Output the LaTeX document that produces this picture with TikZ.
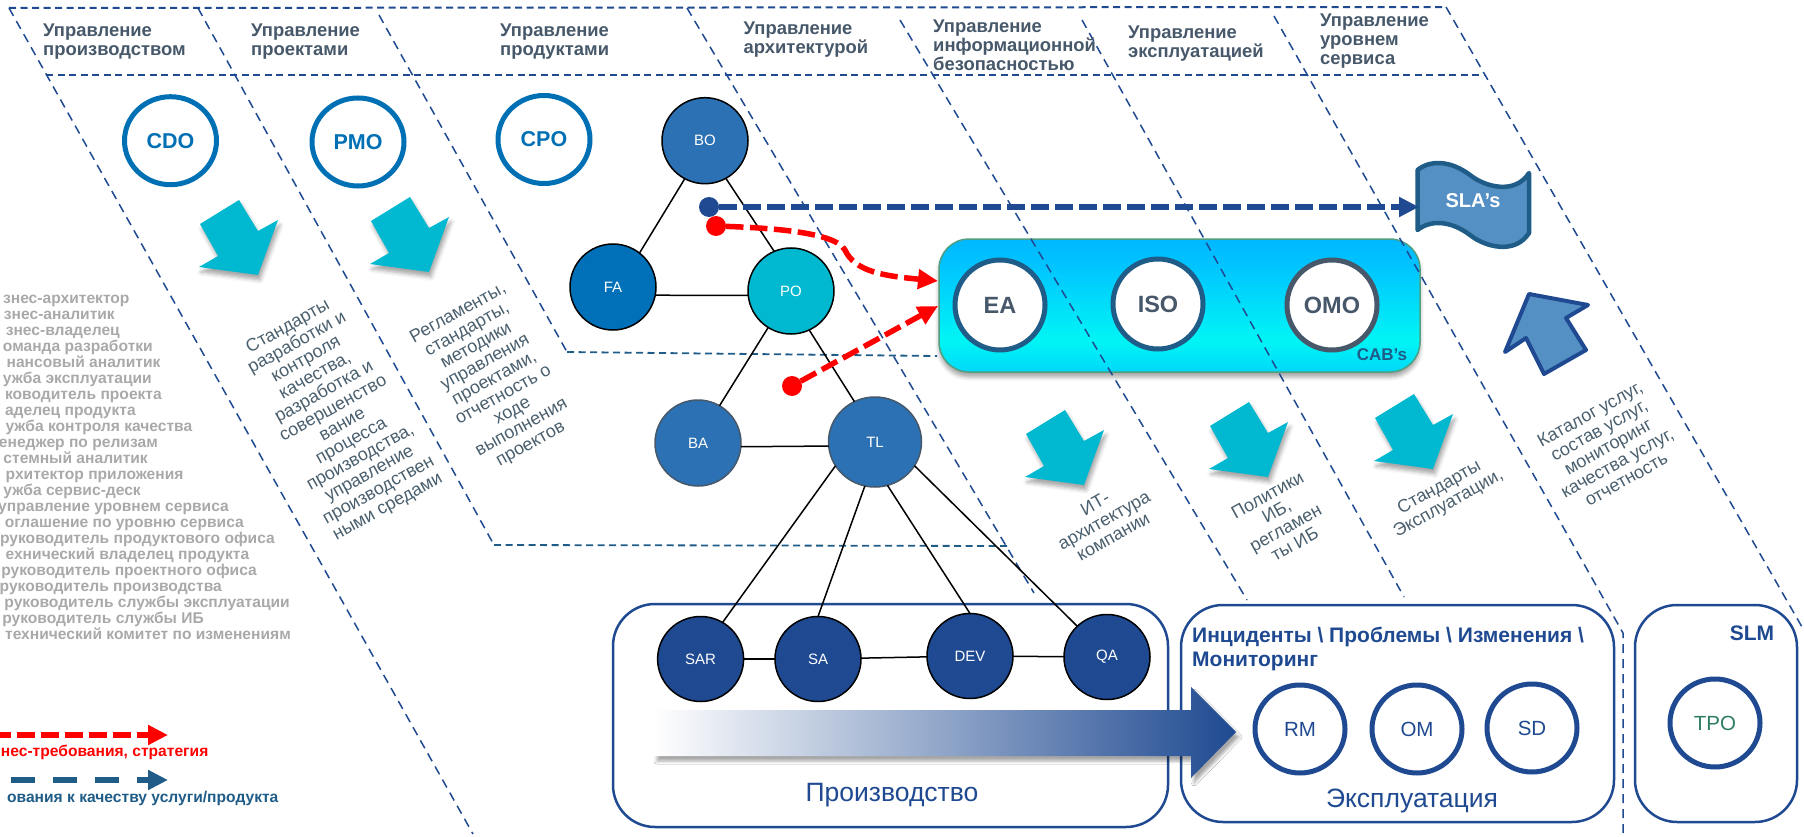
\documentclass[tikz,border=0pt]{standalone}
\usepackage{fontspec}
\setmainfont{Liberation Sans}
\usetikzlibrary{shapes.geometric,arrows.meta,shadows.blur}
\definecolor{navy}{HTML}{1F4A91}
\definecolor{steel}{HTML}{1F5C87}
\definecolor{midblue}{HTML}{2B71B3}
\definecolor{ringblue}{HTML}{0070B4}
\definecolor{faBlue}{HTML}{0070B8}
\definecolor{tealc}{HTML}{00B8D0}
\definecolor{slate}{HTML}{46586A}
\definecolor{rottext}{HTML}{4A5F6E}
\definecolor{lightgr}{HTML}{A9A9A9}
\definecolor{flagfill}{HTML}{5590C5}
\definecolor{cabedge}{HTML}{4F9F80}
\definecolor{trpgreen}{HTML}{2E7D60}
\definecolor{caba}{HTML}{00B0FF}
\definecolor{cabb}{HTML}{00F5F5}
\definecolor{cabc}{HTML}{00C4FF}
\definecolor{cabd}{HTML}{00A2FF}
\pgfdeclareverticalshading{cabfill}{100bp}{color(0bp)=(caba); color(8bp)=(caba); color(37bp)=(cabb); color(65bp)=(cabc); color(92bp)=(cabd); color(100bp)=(cabd)}
\newcommand{\fs}[1]{\fontsize{#1}{#1}\selectfont}
\tikzset{
  orb/.style n args={2}{ellipse,inner sep=0pt,outer sep=0pt,minimum width=#1pt,minimum height=#2pt},
  rolering/.style={orb={92}{88},draw=ringblue,line width=5pt,fill=white,text=ringblue,font=\bfseries\fs{21.5}},
  teamdark/.style={orb={86}{85},draw=black,line width=1.5pt,fill=navy,text=white,font=\fs{15}},
  teammid/.style={orb={86}{86},draw=black,line width=1.5pt,fill=midblue,text=white,font=\fs{15}},
  cabring/.style={orb={90}{90},draw=steel,line width=5pt,fill=white,text=slate,font=\bfseries\fs{23.5}},
  opsring/.style={orb={90}{88},draw=navy,line width=5pt,fill=white,text=navy,font=\fs{20.5}},
  laneline/.style={draw=navy,line width=1.5pt,dash pattern=on 9pt off 6pt},
  ruleline/.style={draw=navy,line width=2pt,dash pattern=on 7pt off 4.5pt},
  floorline/.style={draw=steel,line width=1.8pt,dash pattern=on 7pt off 4.5pt},
  link/.style={draw=black,line width=1.5pt},
  head/.style={anchor=west,align=left,text=slate,font=\bfseries\fontsize{18.4}{19}\selectfont,inner sep=0pt},
  rottxt/.style={rotate=29,align=center,text=rottext,font=\fontsize{18}{18.7}\selectfont,inner sep=0pt},
  listline/.style={anchor=base east,text=lightgr,font=\bfseries\fs{15.6},inner sep=0pt},
  tealarrow/.style={fill=tealc,blur shadow={shadow xshift=2pt,shadow yshift=-5pt,shadow blur radius=4pt,shadow opacity=35}},
  redflow/.style={draw=red,line width=5.5pt,dash pattern=on 17.5pt off 6.5pt,-{Triangle[length=20pt,width=19pt]}},
  blueflow/.style={draw=navy,line width=5.5pt,dash pattern=on 17.5pt off 6.5pt,-{Triangle[length=20pt,width=19pt]}},
  panel/.style={draw=navy,line width=2.5pt,rounded corners=42pt,fill=white,inner sep=0pt},
  paneltitle/.style={text=navy,font=\fs{26.5},inner sep=0pt},
  dotn/.style={circle,inner sep=0pt,outer sep=0pt,minimum size=20pt},
  legendtxt/.style={anchor=base east,font=\bfseries\fs{15.6},inner sep=0pt}
}
\begin{document}
\begin{tikzpicture}[x=1pt,y=-1pt]
\useasboundingbox (0,0) rectangle (1804,837);
\clip (0,0) rectangle (1804,837);

% coordinates of lanes
\coordinate (l1a) at (9,8);     \coordinate (l1b) at (473,834);
\coordinate (l2a) at (198,8);   \coordinate (l2b) at (494,545);
\coordinate (l3a) at (379,15);  \coordinate (l3b) at (567,352);
\coordinate (l4a) at (687,8);   \coordinate (l4b) at (1034,593);
\coordinate (l5a) at (900,20);  \coordinate (l5b) at (1247,600);
\coordinate (l6a) at (1082,20); \coordinate (l6b) at (1404,597);
\coordinate (l7a) at (1274,16); \coordinate (l7b) at (1623,633); \coordinate (l7c) at (1623,837);
\coordinate (l8a) at (1446,7);  \coordinate (l8b) at (1802,627);
\coordinate (t1) at (9,8);      \coordinate (t2) at (1446,7);
\coordinate (m1) at (46,75);    \coordinate (m2) at (1485,75);
\coordinate (f1) at (494,545);  \coordinate (f2) at (1009,546);
\coordinate (g1) at (567,352);  \coordinate (g2) at (937,356);

% CAB band
\node[rounded corners=30pt,shading=cabfill,draw=cabedge,line width=1.5pt,minimum width=481pt,minimum height=133pt,inner sep=0pt,
  blur shadow={shadow xshift=0pt,shadow yshift=-5pt,shadow blur radius=4pt,shadow opacity=35}] (cab) at (1179.5,305.5) {};

% dashed lanes
\draw[ruleline] (t1) -- (t2);
\draw[ruleline] (m1) -- (m2);
\draw[floorline] (f1) -- (f2);
\draw[floorline] (g1) -- (g2);
\draw[laneline] (l1a) -- (l1b);
\draw[laneline] (l2a) -- (l2b);
\draw[laneline] (l3a) -- (l3b);
\draw[laneline] (l4a) -- (l4b);
\draw[laneline] (l5a) -- (l5b);
\draw[laneline] (l6a) -- (l6b);
\draw[laneline] (l7a) -- (l7b) -- (l7c);
\draw[laneline] (l8a) -- (l8b);

% headers
\node[head] (h1) at (43,41.5) {Управление\\производством};
\node[head] (h2) at (251,42) {Управление\\проектами};
\node[head] (h3) at (500,42) {Управление\\продуктами};
\node[head] (h4) at (743.5,39.5) {Управление\\архитектурой};
\node[head] (h5) at (933,45.5) {Управление\\информационной\\безопасностью};
\node[head] (h6) at (1128,43.5) {Управление\\эксплуатацией};
\node[head] (h7) at (1320,41.5) {Управление\\уровнем\\сервиса};

% role rings
\node[rolering] (cdo) at (170.5,140.7) {CDO};
\node[rolering] (pmo) at (358,142) {PMO};
\node[rolering] (cpo) at (544,139.5) {CPO};

% teal arrows
\foreach \dx/\dy in {0/0,171/-3,826/210,1010/202,1175/194}
  \path[tealarrow,shift={(\dx,\dy)}] (239,200) -- (258,231) -- (278,220) -- (258,275) -- (199,267) -- (218,256) -- (200,224) -- cycle;

% bottom panels
\node[panel,minimum width=555pt,minimum height=223pt] (prod) at (890.5,715.5) {};
\node[panel,minimum width=433pt,minimum height=217pt] (expl) at (1397.5,713.5) {};
\node[panel,minimum width=162pt,minimum height=217pt] (slm) at (1716,713.5) {};

% team nodes and links
\node[teammid] (bo) at (705,140.7) {BO};
\node[orb={86}{86},draw=black,line width=1.5pt,fill=faBlue,text=white,font=\fs{15}] (fa) at (613,287) {FA};
\node[orb={86}{86},draw=black,line width=1.5pt,fill=tealc,text=white,font=\fs{15}] (po) at (791,291) {PO};
\node[teammid,draw=slate] (ba) at (698,443) {BA};
\node[orb={93}{90},draw=slate,line width=1.5pt,fill=midblue,text=white,font=\fs{15}] (tl) at (875,442) {TL};
\node[teamdark] (sar) at (700.6,659) {SAR};
\node[teamdark] (sa) at (818,659) {SA};
\node[teamdark] (dev) at (970,656) {DEV};
\node[teamdark] (qa) at (1107,657) {QA};
\draw[link] (bo.242) -- (fa.52);
\draw[link] (bo.299) -- (po.113);
\draw[link] (fa.-11) -- (po.186);
\draw[link] (po.238) -- (ba.60);
\draw[link] (po.295) -- (tl.117);
\draw[link] (ba.-5) -- (tl.185);
\draw[link] (tl.211) -- (sar.59);
\draw[link] (tl.257) -- (sa.north);
\draw[link] (tl.286) -- (dev.north);
\draw[link] (tl.329) -- (qa.134);
\draw[link] (sar) -- (sa);
\draw[link] (sa) -- (dev);
\draw[link] (dev) -- (qa);

% big gradient arrow
\shade[left color=white,right color=navy,blur shadow={shadow xshift=3pt,shadow yshift=-5pt,shadow blur radius=3pt,shadow opacity=35}]
  (654,710) -- (1191,710) -- (1191,687) -- (1236,732) -- (1191,778) -- (1191,756) -- (654,756) -- cycle;

% CAB rings
\node[cabring] (ea) at (1000,305) {EA};
\node[cabring] (iso) at (1158,304) {ISO};
\node[cabring,draw=slate] (omo) at (1332,305) {OMO};
\node[text=steel,font=\bfseries\fs{17},inner sep=0pt] (cabs) at (1382,355) {CAB’s};

% flag
\path[draw=steel,line width=4.5pt,fill=flagfill,line join=round]
  (1417.5,170) .. controls (1430,160) and (1450,160) .. (1470,175) .. controls (1485,187) and (1515,195) .. (1529,173)
  -- (1529,233) .. controls (1515,255) and (1485,247) .. (1470,235) .. controls (1450,220) and (1430,220) .. (1417.5,230) -- cycle;
\node[text=white,font=\bfseries\fs{20},inner sep=0pt] (sla) at (1473,201) {SLA’s};

% up arrow
\path[draw=navy,line width=4pt,fill=flagfill,line join=round]
  (1529,294) -- (1588,305) -- (1566,318) -- (1586,350) -- (1544,374) -- (1526,338) -- (1505,352) -- cycle;

% flows
\node[dotn,fill=navy] (dotb) at (709,207) {};
\node[dotn,fill=red] (dotr) at (716,226) {};
\node[dotn,fill=red] (dots) at (792,386) {};
\coordinate (slain) at (1419,207);
\coordinate (cabin) at (938,281);
\coordinate (cabintwo) at (938,306);
\draw[blueflow] (dotb) -- (slain);
\draw[redflow] (dotr) .. controls (770,228) and (835,232) .. (845,250) .. controls (855,272) and (885,276) .. (cabin);
\draw[redflow] (dots) -- (cabintwo);

% rotated texts
\node[rottxt] (r1) at (338,417) {Стандарты\\разработки и\\контроля\\качества,\\разработка и\\совершенство\\вание\\процесса\\производства,\\управление\\производствен\\ными средами};
\node[rottxt] (r2) at (494.5,379) {Регламенты,\\стандарты,\\методики\\управления\\проектами,\\отчетность о\\ходе\\выполнения\\проектов};
\node[rottxt] (r3) at (1104,520) {ИТ-\\архитектура\\компании};
\node[rottxt] (r4) at (1281,519.5) {Политики\\ИБ,\\регламен\\ты ИБ};
\node[rottxt] (r5) at (1444,496) {Стандарты\\Эксплуатации,};
\node[rottxt] (r6) at (1608,446.5) {Каталог услуг,\\состав услуг,\\мониторинг\\качества услуг,\\отчетность};

% grey list
\foreach \n/\xe/\txt [count=\i from 0] in {
 a/129.7/знес-архитектор, b/115/знес-аналитик, c/120/знес-владелец, d/153/оманда разработки,
 e/160.7/нансовый аналитик, f/152/ужба эксплуатации, g/162/ководитель проекта, h/136/аделец продукта,
 j/192.5/ужба контроля качества, k/158/енеджер по релизам, l/148/стемный аналитик, m/183.7/рхитектор приложения,
 n/141/ужба сервис-деск, o/229/управление уровнем сервиса, p/244/оглашение по уровню сервиса,
 q/275/руководитель продуктового офиса, r/249.5/ехнический владелец продукта, s/257/руководитель проектного офиса,
 t/222/руководитель производства, u/290/руководитель службы эксплуатации, v/204/руководитель службы ИБ, w/291/технический комитет по изменениям}
  \node[listline] (list\n) at (\xe,303+16*\i) {\txt};

% legend
\coordinate (lr1) at (0,735); \coordinate (lr2) at (168,735);
\coordinate (lb1) at (10.7,780); \coordinate (lb2) at (168,780);
\draw[draw=red,line width=5.7pt,dash pattern=on 17.5pt off 6.5pt,dash phase=6.8pt,-{Triangle[length=20pt,width=19pt]}] (lr1) -- (lr2);
\draw[draw=steel,line width=5.7pt,dash pattern=on 24pt off 18pt,-{Triangle[length=20pt,width=19pt]}] (lb1) -- (lb2);
\node[legendtxt,text=red] (lrt) at (208.6,756) {нес-требования, стратегия};
\node[legendtxt,text=steel] (lbt) at (278.6,802) {ования к качеству услуги/продукта};

% panel contents
\node[paneltitle] (pt) at (892,795) {Производство};
\node[paneltitle] (et) at (1412,800.5) {Эксплуатация};
\node[anchor=west,align=left,text=navy,font=\bfseries\fontsize{21}{24}\selectfont,inner sep=0pt] (inc) at (1192,648.5) {Инциденты \textbackslash{} Проблемы \textbackslash{} Изменения \textbackslash{}\\Мониторинг};
\node[text=navy,font=\bfseries\fs{21},inner sep=0pt] (slmt) at (1752,633) {SLM};
\node[opsring] (rm) at (1300,729) {RM};
\node[opsring] (om) at (1417,729) {OM};
\node[opsring] (sd) at (1532,728) {SD};
\node[opsring,text=trpgreen] (tpo) at (1715,723) {TPO};
\end{tikzpicture}
\end{document}
